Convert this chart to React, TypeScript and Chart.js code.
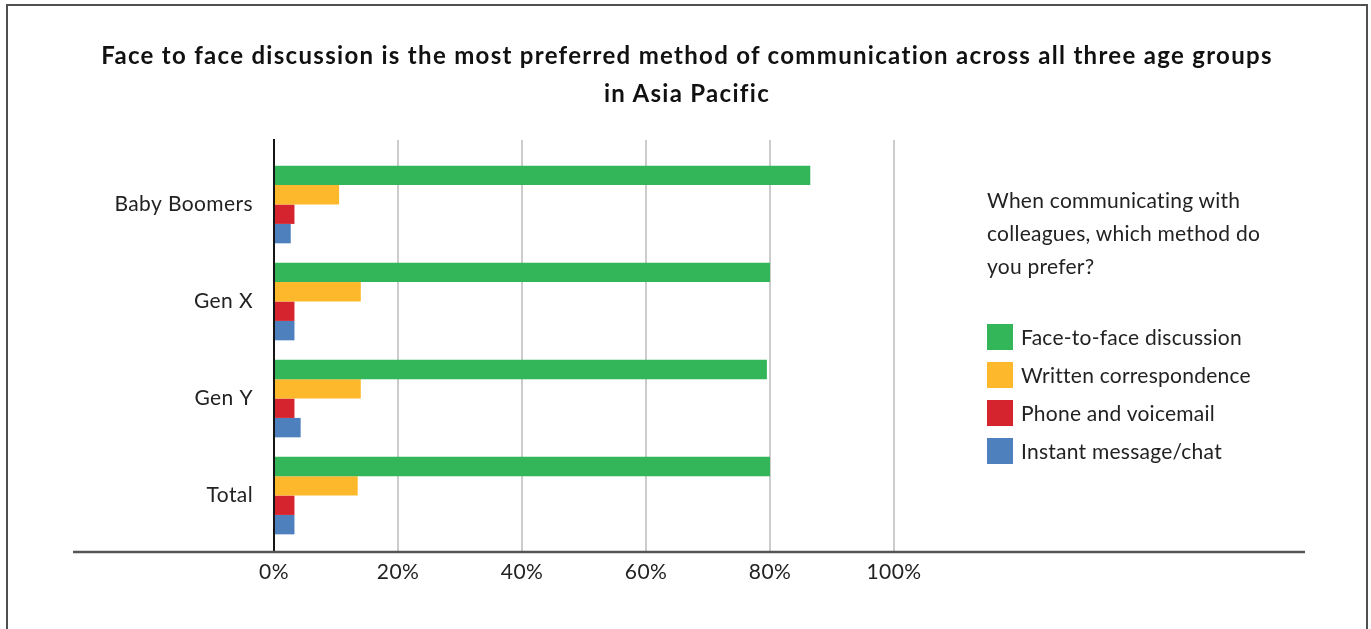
import React, { useEffect, useRef } from "react";
import { Chart, registerables } from "chart.js";

Chart.register(...registerables);

const CATEGORIES = ["Baby Boomers", "Gen X", "Gen Y", "Total"];
const SERIES_NAMES = [
  "Face-to-face discussion",
  "Written correspondence",
  "Phone and voicemail",
  "Instant message/chat",
];
const FACE_TO_FACE = [86.5, 80, 79.5, 80];
const WRITTEN = [10.5, 14, 14, 13.5];
const PHONE = [3.3, 3.3, 3.3, 3.3];
const INSTANT = [2.7, 3.3, 4.3, 3.3];
const X_TICKS = [0, 20, 40, 60, 80, 100];
const COLORS = ["#33B559", "#FDB92B", "#D5242D", "#4E80BE"];
const TITLE_LINES = [
  "Face to face discussion is the most preferred method of communication across all three age groups",
  "in Asia Pacific",
];
const LEGEND_TITLE = ["When communicating with", "colleagues, which method do", "you prefer?"];

const FONT = "Lato, 'Open Sans', sans-serif";
const TEXT = "#222222";

const spacingPlugin = {
  id: "spacing",
  beforeDraw(chart: any) {
    chart.ctx.letterSpacing = "0.4px";
  },
};

const axisLinePlugin = {
  id: "axisLine",
  afterDraw(chart: any) {
    const { ctx, chartArea } = chart;
    ctx.save();
    ctx.strokeStyle = "#555555";
    ctx.lineWidth = 2.5;
    ctx.beginPath();
    ctx.moveTo(73, chartArea.bottom);
    ctx.lineTo(chartArea.right, chartArea.bottom);
    ctx.stroke();
    ctx.restore();
  },
};

export default function App() {
  const canvasRef = useRef<HTMLCanvasElement | null>(null);

  useEffect(() => {
    if (!canvasRef.current) return;
    const series = [FACE_TO_FACE, WRITTEN, PHONE, INSTANT];
    const chart = new Chart(canvasRef.current, {
      type: "bar",
      data: {
        datasets: series.map((vals, si) => ({
          label: SERIES_NAMES[si],
          data: vals.map((v, i) => ({ x: v, y: i })),
          backgroundColor: COLORS[si],
          borderWidth: 0,
          barPercentage: 1,
          categoryPercentage: 0.8,
        })),
      },
      options: {
        indexAxis: "y",
        responsive: false,
        animation: false,
        layout: { padding: { left: 0, top: 140, right: 66, bottom: 0 } },
        plugins: {
          legend: { display: false },
          title: { display: false },
          tooltip: { enabled: false },
        },
        scales: {
          y: {
            type: "linear",
            reverse: true,
            offset: false,
            bounds: "data",
            min: -0.665,
            max: 3.582,
            afterBuildTicks: (scale: any) => {
              scale.ticks = CATEGORIES.map((_, i) => ({ value: i }));
            },
            afterFit: (scale: any) => {
              scale.width = 274;
            },
            grid: { display: false, drawTicks: false, offset: false },
            border: { display: true, color: "#151515", width: 2, z: 1 },
            ticks: {
              padding: 21,
              color: TEXT,
              font: { family: FONT, size: 21 },
              callback: (v: any) => CATEGORIES[Math.round(Number(v))] ?? "",
            },
          },
          x: {
            type: "linear",
            min: 0,
            max: ((1305 - 274) / 620) * 100,
            afterBuildTicks: (scale: any) => {
              scale.ticks = X_TICKS.map((v) => ({ value: v }));
            },
            afterFit: (scale: any) => {
              scale.height = 77;
            },
            grid: { color: "#cccccc", lineWidth: 2, drawTicks: false },
            border: { display: false },
            ticks: {
              padding: 8,
              color: TEXT,
              font: { family: FONT, size: 21 },
              callback: (v: any) => `${v}%`,
            },
          },
        },
      },
      plugins: [spacingPlugin, axisLinePlugin],
    } as any);
    return () => chart.destroy();
  }, []);

  return (
    <div
      style={{
        position: "fixed",
        left: 0,
        top: 0,
        width: 1371,
        height: 629,
        overflow: "hidden",
        background: "#ffffff",
        fontFamily: FONT,
        color: TEXT,
      }}
    >
      <div
        style={{
          position: "absolute",
          left: 6,
          top: 4,
          width: 1358,
          height: 700,
          border: "2px solid #505050",
        }}
      />
      <canvas
        ref={canvasRef}
        width={1371}
        height={629}
        style={{ position: "absolute", left: 0, top: 0, width: 1371, height: 629 }}
      />
      <div
        style={{
          position: "absolute",
          left: 6,
          width: 1362,
          top: 36,
          textAlign: "center",
          fontWeight: 700,
          fontSize: 24,
          letterSpacing: "1.3px",
          lineHeight: "38px",
          color: "#111111",
        }}
      >
        {TITLE_LINES.map((t, i) => (
          <div key={i} style={{ whiteSpace: "nowrap" }}>
            {t}
          </div>
        ))}
      </div>
      <div
        style={{
          position: "absolute",
          left: 987,
          top: 183,
          fontSize: 21,
          letterSpacing: "0.25px",
          lineHeight: "33px",
        }}
      >
        {LEGEND_TITLE.map((t, i) => (
          <div key={i} style={{ whiteSpace: "nowrap" }}>
            {t}
          </div>
        ))}
      </div>
      {SERIES_NAMES.map((name, i) => (
        <div
          key={name}
          style={{
            position: "absolute",
            left: 987,
            top: 324 + i * 38,
            height: 26,
            display: "flex",
            alignItems: "center",
            whiteSpace: "nowrap",
          }}
        >
          <div style={{ width: 26, height: 26, background: COLORS[i], marginRight: 8 }} />
          <span style={{ fontSize: 21, letterSpacing: "0.25px", lineHeight: "26px" }}>{name}</span>
        </div>
      ))}
    </div>
  );
}
